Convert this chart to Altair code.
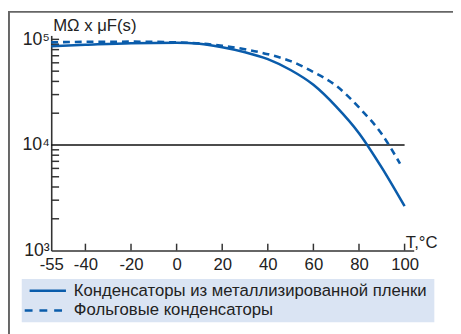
import altair as alt
import pandas as pd

# ---- data ----
temps_film = [-55, -40, -20, 0, 10, 20, 30, 40, 50, 60, 70, 80, 90, 100]
vals_film = [86000, 88800, 92100, 92800, 90800, 84200, 75600, 65000, 51300,
             37150, 23100, 12940, 6100, 2630]
temps_foil = [-55, -40, -20, 0, 10, 20, 30, 40, 50, 60, 70, 80, 90, 98]
vals_foil = [93700, 94800, 95200, 93700, 91800, 87000, 80650, 72400, 62300,
             49150, 36370, 22650, 12680, 6645]
series_names = ["Конденсаторы из металлизированной пленки", "Фольговые конденсаторы"]
x_ticks = [-55, -40, -20, 0, 20, 40, 60, 80, 100]
y_major = [1000, 10000, 100000]
y_minor = [2000, 3000, 4000, 5000, 6000, 7000, 8000, 9000,
           20000, 30000, 40000, 50000, 60000, 70000, 80000, 90000, 100000]
ref_level = [10000]
ref_span = [-55, 100]
y_title = "MΩ x μF(s)"
x_title = "T,°C"

W, H = 369, 219
PL, PT = 44, 25
BLUE = "#0a5cab"
FONT = "Liberation Sans"

df_film = pd.DataFrame({"T": temps_film, "R": vals_film})
df_foil = pd.DataFrame({"T": temps_foil, "R": vals_foil})

xs = alt.Scale(domain=[-55, 104], nice=False, zero=False)
ys = alt.Scale(type="log", domain=[1000, 109000], nice=False)

x_axis = alt.Axis(values=x_ticks, ticks=False, grid=False, title=None,
                  labelFontSize=17, labelFont=FONT, labelColor="#222",
                  labelPadding=6, domainColor="#333", domainWidth=1.6,
                  labelFlush=False, labelExpr="'' + datum.value")
y_axis = alt.Axis(values=y_major, ticks=False, grid=False, title=None,
                  labelFontSize=18, labelFont=FONT, labelColor="#222",
                  labelPadding=2, domainColor="#333", domainWidth=1.6,
                  labelExpr="datum.value == 1000 ? '10³' : datum.value == 10000 ? '10⁴' : '10⁵'")

X = alt.X("T:Q", scale=xs, axis=x_axis)
Y = alt.Y("R:Q", scale=ys, axis=y_axis)

solid = alt.Chart(df_film).mark_line(
    color=BLUE, strokeWidth=2.6, interpolate="monotone"
).encode(x=X, y=Y)

dashed = alt.Chart(df_foil).mark_line(
    color=BLUE, strokeWidth=2.6, strokeDash=[7, 5], interpolate="monotone"
).encode(x=X, y=Y)

ref = alt.Chart(pd.DataFrame({"T": [ref_span[0]], "T2": [ref_span[1]], "R": ref_level})).mark_rule(
    color="#111", strokeWidth=1.5
).encode(x=X, x2="T2:Q", y=Y)

xt = alt.Chart(pd.DataFrame({"T": x_ticks[1:]})).mark_rule(
    color="#333", strokeWidth=1.5
).encode(x=X, y=alt.value(H), y2=alt.value(H - 7))

yt = alt.Chart(pd.DataFrame({"R": y_minor})).mark_rule(
    color="#333", strokeWidth=1.5
).encode(y=Y, x=alt.value(0), x2=alt.value(8))

def label(txt, x, y, align="left", baseline="alphabetic"):
    return alt.Chart(pd.DataFrame({"t": [txt]})).mark_text(
        align=align, baseline=baseline, fontSize=17, font=FONT, color="#222"
    ).encode(text="t:N", x=alt.value(x), y=alt.value(y))

ytitle = label(y_title, 2, -5)
xtitle = label(x_title, 361, H - 3)

# legend
one = pd.DataFrame({"k": [0]})
leg_box = alt.Chart(one).mark_rect(color="#dae4f3").encode(
    x=alt.value(-30), x2=alt.value(390), y=alt.value(H + 29), y2=alt.value(H + 73))
leg_l1 = alt.Chart(one).mark_rule(color=BLUE, strokeWidth=2.6).encode(
    x=alt.value(-22), x2=alt.value(15), y=alt.value(H + 41))
leg_l2 = alt.Chart(one).mark_rule(
    color=BLUE, strokeWidth=2.6, strokeDash=[8, 7]).encode(
    x=alt.value(-27), x2=alt.value(15), y=alt.value(H + 61))
leg_t1 = label(series_names[0], 23, H + 41, baseline="middle")
leg_t2 = label(series_names[1], 23, H + 61, baseline="middle")

# outer frame (top and left edges)
frame_top = alt.Chart(one).mark_rule(color="#666", strokeWidth=2).encode(
    x=alt.value(-PL), x2=alt.value(W + 60), y=alt.value(-PT + 1))
frame_left = alt.Chart(one).mark_rule(color="#666", strokeWidth=2).encode(
    x=alt.value(-PL + 1), y=alt.value(-PT), y2=alt.value(H + 90))

chart = alt.layer(
    leg_box, frame_top, frame_left, ref, xt, yt, solid, dashed, ytitle, xtitle,
    leg_l1, leg_l2, leg_t1, leg_t2
).properties(
    width=W, height=H,
    autosize=alt.AutoSizeParams(type="none"),
    padding={"left": PL, "top": PT, "right": 461 - 8 - PL - W, "bottom": 334 - 8 - PT - H},
    background="white",
).configure_view(stroke=None)

chart.save("out.html", embed_options={"renderer": "svg", "actions": False})
